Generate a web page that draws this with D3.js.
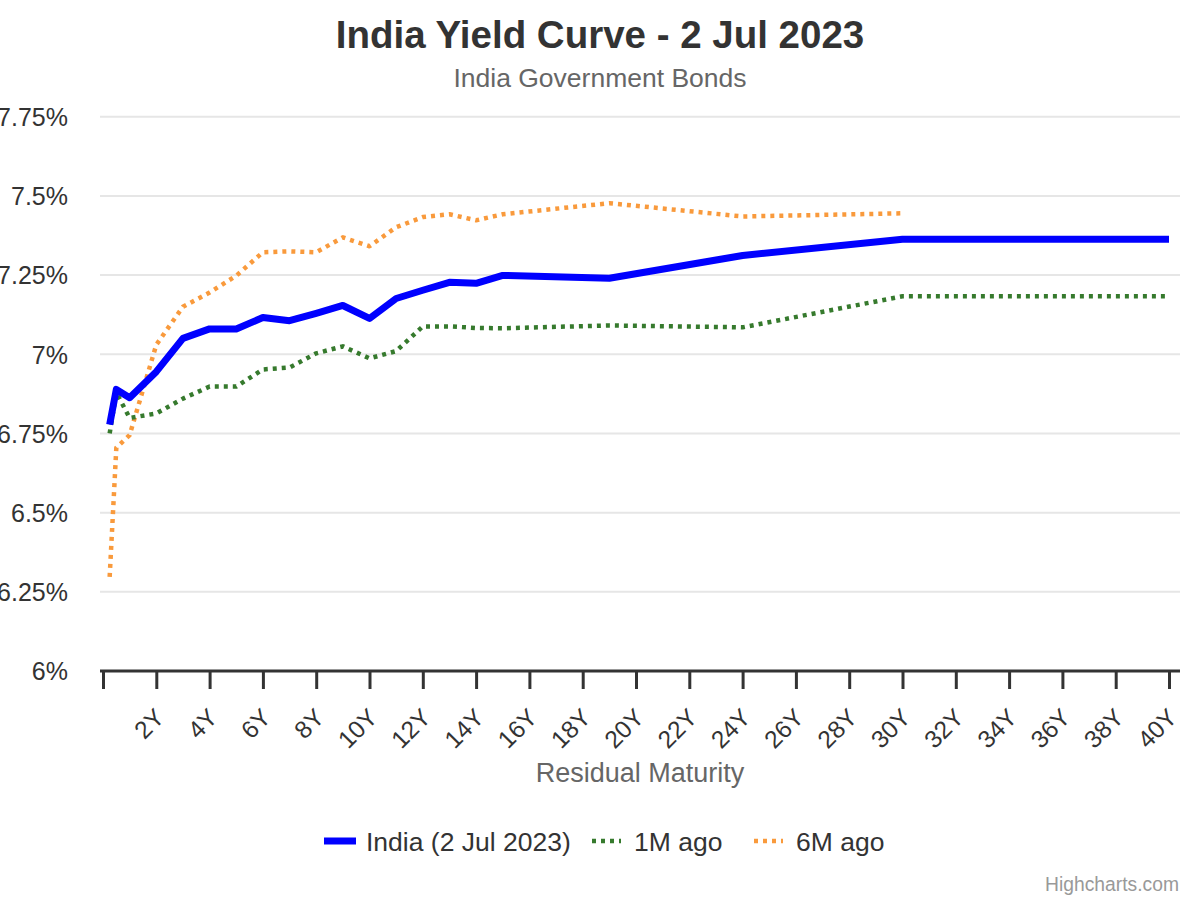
<!DOCTYPE html>
<html>
<head>
<meta charset="utf-8">
<script src="https://cdn.jsdelivr.net/npm/d3@7"></script>
<style>
  body { margin: 0; background: #fff; }
  svg { font-family: "Liberation Sans", Arial, sans-serif; }
</style>
</head>
<body>
<div id="chart"></div>
<script>
// residual maturity in years
var tenors = [0.25, 0.5, 1, 2, 3, 4, 5, 6, 7, 8, 9, 10, 11, 12, 13, 14, 15, 19, 24, 30, 40];
var indiaNow = [6.778, 6.889, 6.863, 6.945, 7.050, 7.080, 7.080, 7.116, 7.106, 7.129, 7.154, 7.113, 7.176, 7.202, 7.227, 7.224, 7.249, 7.240, 7.312, 7.363, 7.363];
var oneMonthAgo = [6.750, 6.879, 6.799, 6.813, 6.860, 6.898, 6.898, 6.952, 6.958, 7.003, 7.025, 6.987, 7.010, 7.088, 7.088, 7.083, 7.082, 7.091, 7.085, 7.183, 7.183];
var sixMonthsAgo = [6.297, 6.705, 6.745, 7.030, 7.150, 7.195, 7.248, 7.322, 7.325, 7.322, 7.369, 7.341, 7.401, 7.433, 7.442, 7.423, 7.442, 7.477, 7.435, 7.445, null];
var seriesNames = ["India (2 Jul 2023)", "1M ago", "6M ago"];
var yTicks = [6, 6.25, 6.5, 6.75, 7, 7.25, 7.5, 7.75];
var xTicks = d3.range(0, 41, 2);

var svgWidth = 1200;
var svgHeight = 900;

var plot = { left: 100, right: 1180, top: 117, bottom: 671 };

var svg = d3.select("#chart")
  .append("svg")
  .attr("width", svgWidth)
  .attr("height", svgHeight);

var xScale = d3.scaleLinear().domain([0, 40]).range([103, 1169]);
var yScale = d3.scaleLinear().domain([6, 7.75]).range([plot.bottom, 116.7]);

// titles
svg.append("text")
  .attr("x", 600).attr("y", 48)
  .attr("text-anchor", "middle")
  .style("font-size", "38.5px").style("font-weight", "bold").style("fill", "#333")
  .text("India Yield Curve - 2 Jul 2023");

svg.append("text")
  .attr("x", 600).attr("y", 87)
  .attr("text-anchor", "middle")
  .style("font-size", "26.5px").style("fill", "#666")
  .text("India Government Bonds");

// horizontal grid
svg.append("g")
  .selectAll("line")
  .data(yTicks.filter(d => d > 6))
  .enter()
  .append("line")
  .attr("x1", plot.left).attr("x2", plot.right)
  .attr("y1", d => yScale(d)).attr("y2", d => yScale(d))
  .attr("stroke", "#e6e6e6").attr("stroke-width", 2);

// y axis labels
var leftAxis = d3.axisLeft(yScale)
  .tickValues(yTicks)
  .tickSize(0)
  .tickPadding(0)
  .tickFormat(d => d3.format("")(+d.toFixed(2)) + "%");

var yAxisG = svg.append("g")
  .attr("transform", "translate(68,0)")
  .call(leftAxis);
yAxisG.select(".domain").remove();
yAxisG.selectAll("text")
  .style("font-size", "25px").style("fill", "#333")
  .attr("font-family", null)
  .attr("dy", "0.35em");

// x axis
var bottomAxis = d3.axisBottom(xScale)
  .tickValues(xTicks)
  .tickSize(18)
  .tickFormat(d => d === 0 ? "" : d + "Y");

var xAxisG = svg.append("g")
  .attr("transform", `translate(0, ${plot.bottom})`)
  .call(bottomAxis);
xAxisG.select(".domain")
  .attr("d", `M${plot.left},0H${plot.right}`)
  .attr("stroke", "#333").attr("stroke-width", 3);
xAxisG.selectAll(".tick line").attr("stroke", "#333").attr("stroke-width", 3);
xAxisG.selectAll(".tick text")
  .attr("font-family", null)
  .style("font-size", "24.5px").style("fill", "#333")
  .attr("y", 0).attr("dy", 0)
  .attr("text-anchor", "end")
  .attr("transform", "translate(9, 48) rotate(-45)");

svg.append("text")
  .attr("x", 640).attr("y", 782)
  .attr("text-anchor", "middle")
  .style("font-size", "27px").style("fill", "#666")
  .text("Residual Maturity");

// series
var seriesList = [
  { name: seriesNames[0], values: indiaNow, color: "#0000ff", width: 7, dash: null },
  { name: seriesNames[1], values: oneMonthAgo, color: "#367a2d", width: 4.5, dash: "4,5" },
  { name: seriesNames[2], values: sixMonthsAgo, color: "#f99a3c", width: 4.5, dash: "4,5" }
];

var line = d3.line()
  .defined(d => d.y != null)
  .x(d => xScale(d.x))
  .y(d => yScale(d.y));

// draw older series first so the current curve sits on top
seriesList.slice().reverse().forEach(function(s) {
  var pts = tenors.map((t, i) => ({ x: t, y: s.values[i] }));
  svg.append("path")
    .datum(pts)
    .attr("d", line)
    .attr("fill", "none")
    .attr("stroke", s.color)
    .attr("stroke-width", s.width)
    .attr("stroke-linejoin", "round")
    .attr("stroke-dasharray", s.dash);
});

// legend
var legendX = [324, 592, 754];
var legendY = 841;
var legend = svg.append("g");
seriesList.forEach(function(s, i) {
  var symW = i === 0 ? 32 : 29;
  legend.append("line")
    .attr("x1", legendX[i]).attr("x2", legendX[i] + symW)
    .attr("y1", legendY).attr("y2", legendY)
    .attr("stroke", s.color)
    .attr("stroke-width", s.width)
    .attr("stroke-dasharray", s.dash);
  legend.append("text")
    .attr("x", legendX[i] + 42).attr("y", legendY + 9.5)
    .style("font-size", "26.5px").style("fill", "#333")
    .text(s.name);
});

svg.append("text")
  .attr("x", 1179).attr("y", 891)
  .attr("text-anchor", "end")
  .style("font-size", "19.3px").style("fill", "#999")
  .text("Highcharts.com");
</script>
</body>
</html>
